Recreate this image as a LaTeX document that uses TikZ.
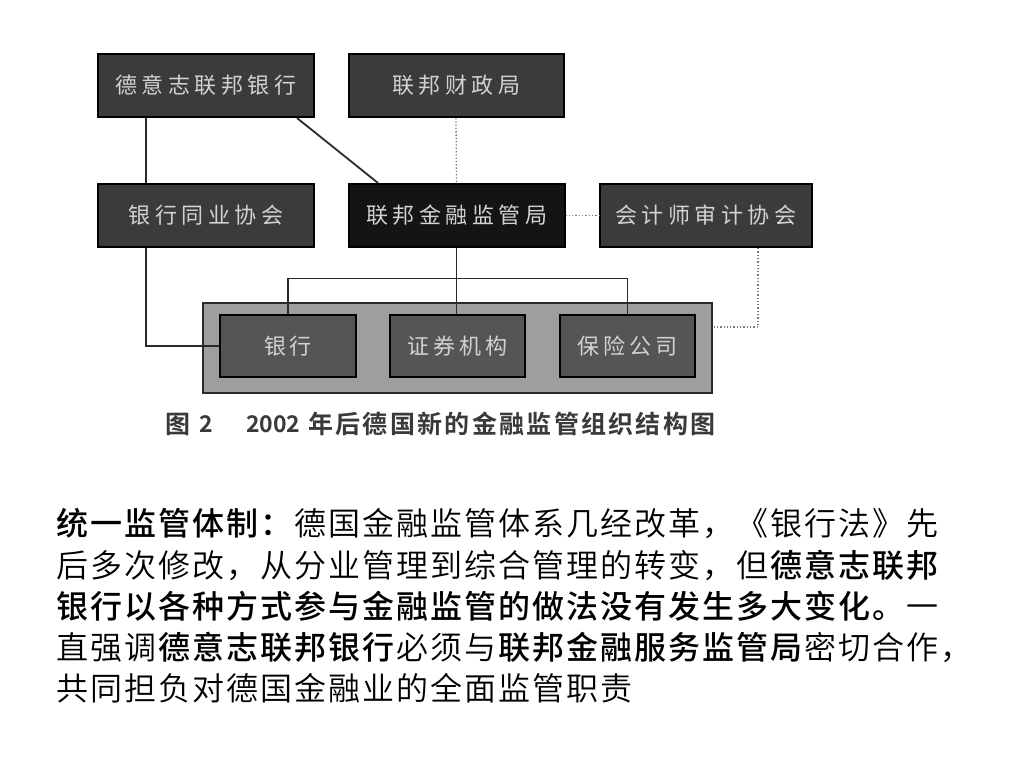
\documentclass[tikz,border=0pt]{standalone}
\usepackage{fontspec}
\newfontfamily\cjk{Noto Sans CJK SC}[UprightFont={* DemiLight}, BoldFont={* Medium}]
\newfontfamily\cjkcap{Noto Sans CJK SC}[BoldFont={* Bold}]
\makeatletter
\newcommand\cells[2]{\@tfor\cl@c:=#2\do{\makebox[#1][c]{\cl@c}}}
\makeatother
\definecolor{boxgray}{HTML}{3B3B3B}
\definecolor{boxdark}{HTML}{141414}
\definecolor{innergray}{HTML}{555555}
\definecolor{outergray}{HTML}{9E9E9E}
\definecolor{boxtext}{HTML}{D2D2D2}
\definecolor{linecol}{HTML}{2A2A2A}
\definecolor{dotcol}{HTML}{7A7A7A}
\definecolor{capcol}{HTML}{3A3A3A}
\tikzset{
  orgbox/.style={draw=black, line width=2pt, fill=boxgray, text=boxtext,
    font=\cjkcap\fontsize{22}{22}\selectfont, inner sep=0pt, minimum height=63pt},
  unitbox/.style={draw=black, line width=2.6pt, fill=innergray, text=boxtext,
    font=\cjkcap\fontsize{22}{22}\selectfont, inner sep=0pt, minimum width=136pt, minimum height=62pt},
  groupbox/.style={draw=linecol, line width=2.4pt, fill=outergray, inner sep=0pt,
    minimum width=509pt, minimum height=90pt},
  conn/.style={draw=linecol, line width=1.8pt},
  thinconn/.style={draw=linecol, line width=1.4pt},
  dotconn/.style={draw=dotcol, line width=1.3pt, dotted},
  paraline/.style={anchor=west, inner sep=0pt, font=\cjk\fontsize{32}{32}\selectfont, text=black},
  caption/.style={anchor=west, inner sep=0pt, font=\cjkcap\bfseries\fontsize{25}{25}\selectfont, text=capcol},
  capdigits/.style={caption, font=\cjkcap\bfseries\fontsize{23}{23}\selectfont}
}
\begin{document}
\begin{tikzpicture}[x=1pt,y=-1pt]
\useasboundingbox (0,0) rectangle (1024,768);
\fill[white] (0,0) rectangle (1024,768);

% top row
\node[orgbox, minimum width=216pt] (bb) at (206,85.5) {\cells{26.5pt}{德意志联邦银行}};
\node[orgbox, minimum width=215pt] (bmf) at (456,85.5) {\cells{26.5pt}{联邦财政局}};
% middle row
\node[orgbox, minimum width=216pt] (bav) at (206,215.5) {\cells{26.5pt}{银行同业协会}};
\node[orgbox, minimum width=216pt, fill=boxdark] (bafin) at (456.5,215.5) {\cells{26.5pt}{联邦金融监管局}};
\node[orgbox, minimum width=212pt] (acc) at (706,215.5) {\cells{26.5pt}{会计师审计协会}};

% group
\node[groupbox] (grp) at (457.5,348) {};
\node[unitbox] (bank) at (288,346) {\cells{26pt}{银行}};
\node[unitbox, minimum width=135pt] (sec) at (457.5,346) {\cells{26pt}{证券机构}};
\node[unitbox, minimum width=135pt] (ins) at (627.5,346) {\cells{26pt}{保险公司}};

% connectors
\draw[conn] ([xshift=-60pt]bb.south) -- ([xshift=-60pt]bav.north);
\draw[conn] ([xshift=91pt]bb.south) -- ([xshift=-78.5pt]bafin.north);
\draw[conn] ([xshift=-60pt]bav.south) |- (bank.west);
\draw[dotconn] (bmf.south) -- (bafin.north);
\draw[dotconn] (bafin.east) -- (acc.west);
\draw[dotconn] ([xshift=52pt]acc.south) |- ([yshift=21pt]grp.east);
\draw[conn] (bafin.south) -- (bafin.south |- sec.north);
\draw[thinconn] (bank.north) -- ++(0,-35) coordinate (bk) -| (ins.north);

% caption
\node[caption] (cap1) at (165,424) {图};
\node[capdigits] (cap1b) at (199,424) {2};
\node[capdigits] (cap2) at (246,424) {2002};
\node[caption] (cap3) at (307,424) {\cells{27.3pt}{年后德国新的金融监管组织结构图}};

% paragraph
\node[paraline] (p1) at (55,524) {{\bfseries\cells{34pt}{统一监管体制：}}\cells{34pt}{德国金融监管体系几经改革，《银行法》先}};
\node[paraline] (p2) at (55,565) {\cells{34pt}{后多次修改，从分业管理到综合管理的转变，但}{\bfseries\cells{34pt}{德意志联邦}}};
\node[paraline] (p3) at (55,606) {{\bfseries\cells{34pt}{银行以各种方式参与金融监管的做法没有发生多大变化。}}\cells{34pt}{一}};
\node[paraline] (p4) at (55,647) {\cells{34pt}{直强调}{\bfseries\cells{34pt}{德意志联邦银行}}\cells{34pt}{必须与}{\bfseries\cells{34pt}{联邦金融服务监管局}}\cells{34pt}{密切合作，}};
\node[paraline] (p5) at (55,688) {\cells{34pt}{共同担负对德国金融业的全面监管职责}};
\end{tikzpicture}
\end{document}
